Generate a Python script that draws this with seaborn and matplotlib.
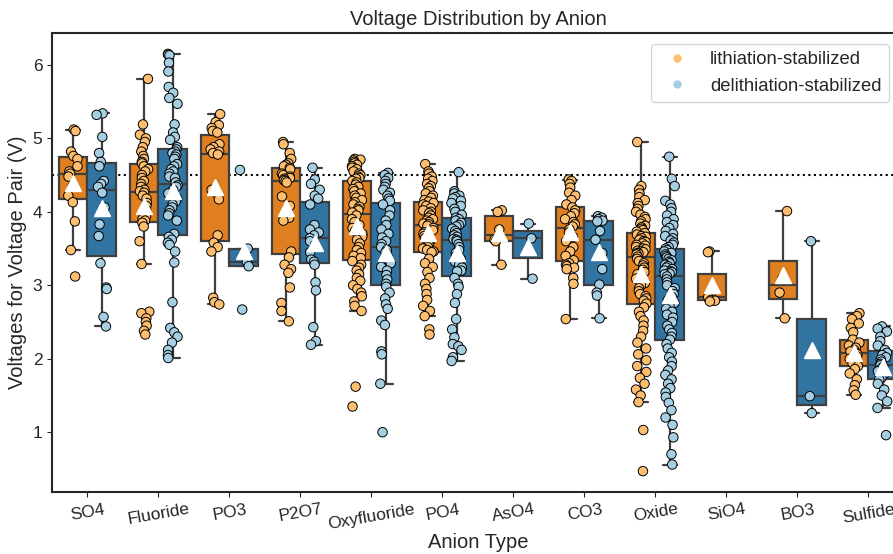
import numpy as np
import pandas as pd
import matplotlib
matplotlib.use("Agg")
import matplotlib.pyplot as plt
from matplotlib.lines import Line2D
import seaborn as sns

# anion order on the x axis
anions = ["SO4", "Fluoride", "PO3", "P2O7", "Oxyfluoride", "PO4",
          "AsO4", "CO3", "Oxide", "SiO4", "BO3", "Sulfide"]
groups = ["lithiation-stabilized", "delithiation-stabilized"]

# voltages, per anion and per stabilization type
so4_lith = [5.12, 5.10, 4.82, 4.76, 4.72, 4.62, 4.55, 4.52, 4.48, 4.35, 4.22, 4.13, 3.87, 3.48, 3.12]
so4_delith = [5.34, 5.32, 5.02, 4.80, 4.68, 4.62, 4.42, 4.38, 4.34, 4.26, 4.06, 3.83, 3.67,
              3.30, 2.97, 2.95, 2.57, 2.44]

fluoride_lith = [5.81, 5.19, 5.05, 5.00, 4.95, 4.88, 4.82, 4.76, 4.72, 4.68, 4.66, 4.62, 4.58, 4.55,
                 4.50, 4.46, 4.42, 4.38, 4.34, 4.30, 4.28, 4.26, 4.22, 4.18, 4.12, 4.08, 4.02, 3.98,
                 3.94, 3.90, 3.88, 3.85, 3.80, 3.60, 3.29, 2.64, 2.62, 2.55, 2.50, 2.45, 2.38, 2.33]
fluoride_delith = [6.15, 6.14, 6.13, 6.03, 5.91, 5.70, 5.62, 5.55, 5.47, 5.19,
                   5.08, 5.02, 4.98, 4.88, 4.85, 4.82, 4.80, 4.78, 4.75, 4.72,
                   4.65, 4.62, 4.58, 4.55, 4.52, 4.48, 4.46, 4.40, 4.36, 4.34,
                   4.30, 4.25, 4.22, 4.18, 4.14, 4.10, 4.06, 4.02, 3.98, 3.95,
                   3.88, 3.70, 3.66, 3.62, 3.58, 3.55, 3.46, 3.31, 2.77, 2.42,
                   2.36, 2.30, 2.22, 2.12, 2.05, 2.01]

po3_lith = [5.33, 5.22, 5.18, 5.14, 5.10, 5.08, 4.92, 4.88, 4.85, 4.82, 4.80, 4.78,
            4.30, 4.24, 4.17, 3.68, 3.58, 3.52, 3.46, 2.83, 2.77, 2.74]
po3_delith = [4.57, 3.50, 3.32, 3.26, 2.67]

p2o7_lith = [4.95, 4.92, 4.80, 4.72, 4.66, 4.64, 4.62, 4.60, 4.58, 4.52, 4.50, 4.48, 4.46,
             4.45, 4.43, 4.42, 4.40, 4.21, 4.08, 3.98, 3.92, 3.88, 3.46, 3.38, 3.28, 3.22,
             3.17, 2.97, 2.76, 2.65, 2.51]
p2o7_delith = [4.60, 4.44, 4.38, 4.30, 4.22, 4.18, 4.10, 3.82, 3.76, 3.72, 3.68, 3.64,
               3.60, 3.55, 3.45, 3.35, 3.32, 3.28, 3.04, 2.93, 2.43, 2.24, 2.19]

oxyfluoride_lith = [4.72, 4.71, 4.70, 4.68, 4.66, 4.64, 4.62, 4.60, 4.58, 4.55, 4.52, 4.50,
                    4.48, 4.46, 4.45, 4.42, 4.40, 4.37, 4.34, 4.31, 4.28, 4.25, 4.22, 4.19,
                    4.16, 4.13, 4.10, 4.07, 4.04, 4.02, 3.99, 3.95, 3.90, 3.86, 3.82, 3.78,
                    3.74, 3.70, 3.66, 3.62, 3.57, 3.52, 3.48, 3.44, 3.40, 3.37, 3.33, 3.28,
                    3.24, 3.20, 3.15, 3.10, 3.06, 3.00, 2.95, 2.90, 2.85, 2.78, 2.72, 2.65,
                    1.62, 1.35]
oxyfluoride_delith = [4.53, 4.50, 4.46, 4.42, 4.38, 4.34, 4.30, 4.26, 4.22, 4.18, 4.15,
                      4.10, 4.02, 3.95, 3.88, 3.82, 3.76, 3.70, 3.65, 3.60, 3.56,
                      3.52, 3.48, 3.45, 3.40, 3.35, 3.30, 3.25, 3.20, 3.14, 3.08,
                      3.02, 2.98, 2.90, 2.82, 2.74, 2.68, 2.52, 2.46, 2.10, 2.06, 1.66,
                      1.00]

po4_lith = [4.65, 4.55, 4.52, 4.48, 4.45, 4.42, 4.38, 4.35, 4.32, 4.28, 4.25, 4.22, 4.19,
            4.16, 4.14, 4.12, 4.10, 4.08, 4.05, 4.02, 4.00, 3.98, 3.95, 3.92, 3.90, 3.88,
            3.86, 3.84, 3.83, 3.81, 3.78, 3.75, 3.72, 3.70, 3.67, 3.64, 3.61, 3.58, 3.55,
            3.52, 3.50, 3.48, 3.46, 3.45, 3.36, 3.30, 3.25, 3.18, 3.10, 3.02, 2.95, 2.88,
            2.80, 2.72, 2.65, 2.58, 2.40, 2.33]
po4_delith = [4.54, 4.28, 4.25, 4.22, 4.20, 4.18, 4.15, 4.12, 4.08, 4.04, 4.00, 3.96, 3.92,
              3.90, 3.88, 3.85, 3.82, 3.80, 3.77, 3.74, 3.71, 3.68, 3.66, 3.63, 3.62, 3.60,
              3.56, 3.52, 3.48, 3.44, 3.40, 3.36, 3.32, 3.28, 3.24, 3.20, 3.19, 3.10, 3.02,
              2.98, 2.88, 2.76, 2.54, 2.40, 2.29, 2.20, 2.17, 2.12, 2.02, 1.97]

aso4_lith = [4.02, 4.00, 3.76, 3.62, 3.60, 3.28]
aso4_delith = [3.84, 3.64, 3.09]

co3_lith = [4.44, 4.42, 4.38, 4.33, 4.26, 4.22, 4.16, 4.10, 4.06, 4.02, 3.98, 3.94, 3.90,
            3.86, 3.83, 3.80, 3.76, 3.72, 3.66, 3.60, 3.52, 3.46, 3.40, 3.34, 3.30, 3.28,
            3.26, 3.24, 3.22, 3.10, 3.02, 2.54]
co3_delith = [3.94, 3.92, 3.90, 3.88, 3.87, 3.74, 3.62, 3.44, 3.22, 3.01, 2.90, 2.86, 2.55]

oxide_lith = [4.95, 4.35, 4.30, 4.25, 4.20, 4.16, 4.12, 4.08, 4.04, 4.00, 3.96, 3.93, 3.90,
              3.87, 3.84, 3.81, 3.79, 3.77, 3.75, 3.73, 3.71, 3.69, 3.67, 3.66, 3.64, 3.62,
              3.60, 3.59, 3.57, 3.55, 3.54, 3.52, 3.50, 3.49, 3.47, 3.46, 3.45, 3.44, 3.43,
              3.42, 3.39, 3.36, 3.33, 3.30, 3.27, 3.24, 3.21, 3.18, 3.15, 3.12, 3.09, 3.06,
              3.03, 3.00, 2.96, 2.92, 2.88, 2.85, 2.82, 2.79, 2.75, 2.70, 2.64, 2.58, 2.52,
              2.45, 2.38, 2.30, 2.22, 2.14, 2.06, 1.98, 1.90, 1.82, 1.74, 1.66, 1.58, 1.50,
              1.41, 1.03, 0.47]
oxide_delith = [4.75, 4.45, 4.35, 4.15, 4.10, 4.05, 4.00, 3.95, 3.90, 3.86, 3.82, 3.78, 3.74,
                3.70, 3.67, 3.64, 3.61, 3.58, 3.55, 3.52, 3.50, 3.48, 3.46, 3.44, 3.42, 3.40,
                3.38, 3.36, 3.34, 3.32, 3.30, 3.28, 3.26, 3.24, 3.22, 3.20, 3.19, 3.18, 3.16,
                3.15, 3.12, 3.08, 3.04, 3.00, 2.96, 2.92, 2.88, 2.84, 2.80, 2.76, 2.72, 2.68,
                2.64, 2.60, 2.56, 2.50, 2.45, 2.40, 2.35, 2.30, 2.26, 2.20, 2.14, 2.08, 2.02,
                1.96, 1.90, 1.84, 1.78, 1.72, 1.66, 1.60, 1.54, 1.48, 1.40, 1.30, 1.20, 1.10,
                0.93, 0.70, 0.56]

sio4_lith = [3.46, 3.45, 2.86, 2.84, 2.80, 2.79, 2.78]
sio4_delith = []

bo3_lith = [4.01, 3.10, 2.90, 2.55]
bo3_delith = [3.60, 1.49, 1.26]

sulfide_lith = [2.62, 2.58, 2.54, 2.48, 2.42, 2.36, 2.26, 2.22, 2.18, 2.15, 2.12, 2.10, 2.08,
                2.06, 2.03, 2.00, 1.97, 1.94, 1.90, 1.86, 1.80, 1.72, 1.64, 1.57, 1.51]
sulfide_delith = [2.44, 2.41, 2.37, 2.30, 2.24, 2.18, 2.12, 2.08, 2.05, 2.02, 1.99, 1.96, 1.93,
                  1.91, 1.89, 1.86, 1.83, 1.80, 1.77, 1.74, 1.72, 1.66, 1.58, 1.50, 1.42, 1.33,
                  0.96]

lith_values = [so4_lith, fluoride_lith, po3_lith, p2o7_lith, oxyfluoride_lith, po4_lith,
               aso4_lith, co3_lith, oxide_lith, sio4_lith, bo3_lith, sulfide_lith]
delith_values = [so4_delith, fluoride_delith, po3_delith, p2o7_delith, oxyfluoride_delith,
                 po4_delith, aso4_delith, co3_delith, oxide_delith, sio4_delith, bo3_delith,
                 sulfide_delith]

rows = []
for anion, lv, dv in zip(anions, lith_values, delith_values):
    rows += [(anion, groups[0], v) for v in lv]
    rows += [(anion, groups[1], v) for v in dv]
df = pd.DataFrame(rows, columns=["anion", "group", "voltage"])

box_colors = {groups[0]: "#ff7f00", groups[1]: "#1f78b4"}
point_colors = {groups[0]: "#fdbf6f", groups[1]: "#a6cee3"}

sns.set_style("ticks")
plt.rcParams["font.family"] = ["Liberation Sans", "DejaVu Sans"]

fig = plt.figure(figsize=(8.93, 5.54), dpi=100)
ax = fig.add_axes([0.0582, 0.1119, 0.954, 0.8285])

sns.boxplot(data=df, x="anion", y="voltage", hue="group", order=anions, hue_order=groups,
            palette=box_colors, showfliers=False, showmeans=True, legend=False,
            linewidth=1.6,
            meanprops={"marker": "^", "markerfacecolor": "white",
                       "markeredgecolor": "white", "markersize": 11},
            ax=ax)
# keep mean triangles above the points
for line in ax.lines:
    if line.get_marker() == "^":
        line.set_zorder(5)

np.random.seed(3)
sns.stripplot(data=df, x="anion", y="voltage", hue="group", order=anions, hue_order=groups,
              palette=point_colors, dodge=True, jitter=0.15, size=6.8,
              edgecolor="black", linewidth=0.7, legend=False, zorder=3, ax=ax)

ax.axhline(4.5, color="black", linestyle=":", linewidth=1.5, zorder=1)

ax.set_title("Voltage Distribution by Anion", fontsize=14.5)
ax.set_xlabel("Anion Type", fontsize=14.5, labelpad=1)
ax.set_ylabel("Voltages for Voltage Pair (V)", fontsize=14.5)
ax.tick_params(axis="both", labelsize=12.5)
plt.setp(ax.get_xticklabels(), rotation=10)
for s in ax.spines.values():
    s.set_linewidth(1.5)

handles = [Line2D([], [], marker="o", linestyle="", markersize=6,
                  markerfacecolor=point_colors[g], markeredgecolor="none") for g in groups]
ax.legend(handles, groups, loc="upper right", fontsize=13.3,
          bbox_to_anchor=(889 / 893, 1 - 44 / 554), bbox_transform=fig.transFigure,
          borderaxespad=0)

fig.savefig("out.png", dpi=100)
